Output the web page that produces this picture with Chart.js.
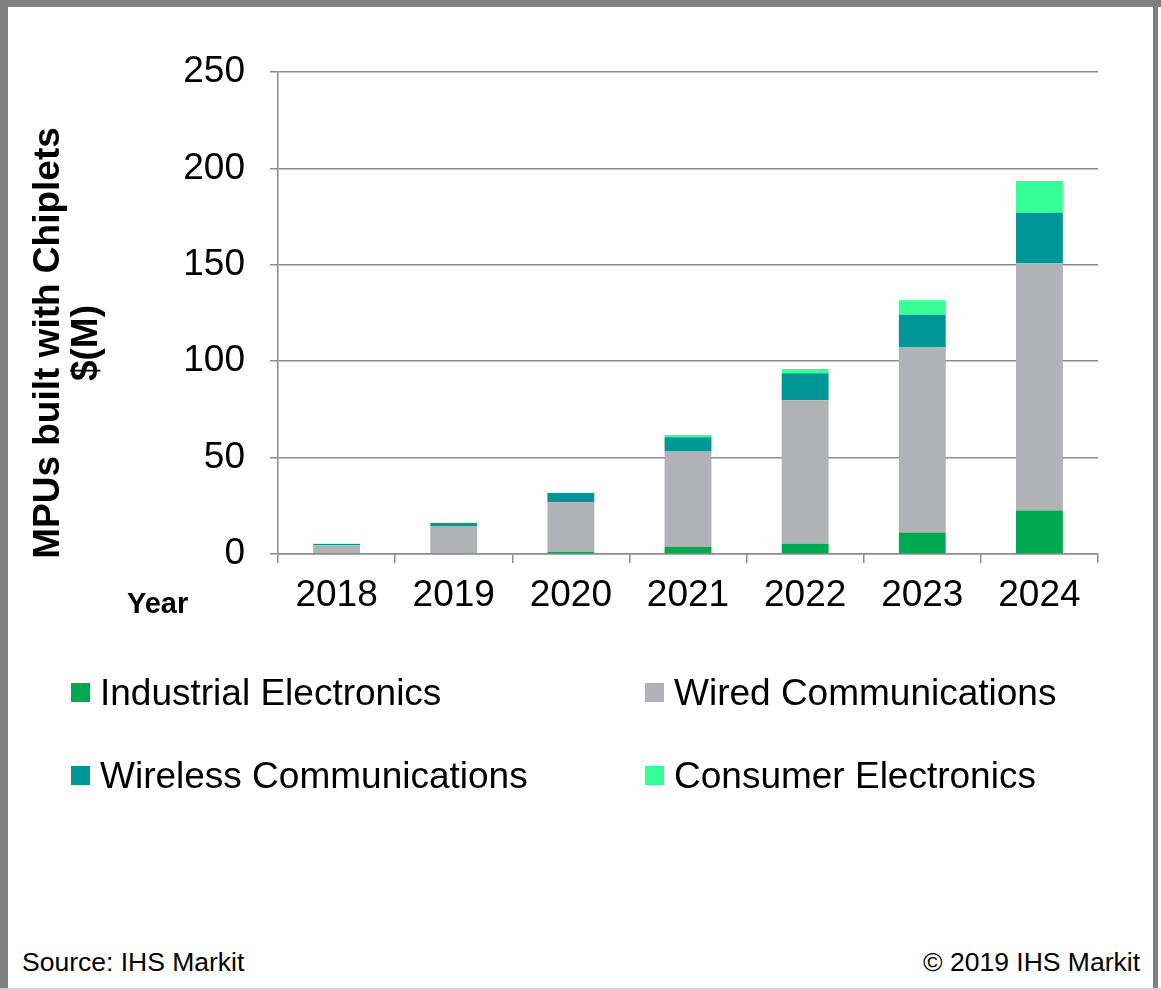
<!DOCTYPE html>
<html>
<head>
<meta charset="utf-8">
<script src="https://cdn.jsdelivr.net/npm/chart.js@4.4.1/dist/chart.umd.min.js"></script>
<style>
  html, body { margin: 0; padding: 0; background: #fff; }
  body { width: 1161px; height: 990px; position: relative; overflow: hidden; font-family: "Liberation Sans", Arial, sans-serif; }
  #frameTop { position: absolute; left: 0; top: 0; width: 1161px; height: 7px; background: #808080; }
  #frameLeft { position: absolute; left: 0; top: 0; width: 8px; height: 990px; background: #808080; }
  #frameRight { position: absolute; left: 1153px; top: 0; width: 5px; height: 990px; background: #808080; }
  #frameBottom { position: absolute; left: 0; top: 988px; width: 1161px; height: 2px; background: #d0d0d0; }
  #chartCanvas { position: absolute; left: 0; top: 0; }
  #ytitle { position: absolute; left: -184px; top: 305px; width: 500px; height: 76px; line-height: 38px;
            text-align: center; font-weight: bold; font-size: 37px; color: #000; transform: rotate(-90deg); transform-origin: 50% 50%; white-space: nowrap; }
  #xtitle { position: absolute; left: 127px; top: 585px; font-weight: bold; font-size: 29px; color: #000; line-height: 36px; }
  .leg { position: absolute; font-size: 37px; color: #000; line-height: 40px; white-space: nowrap; }
  .leg span.box { position: absolute; width: 19px; height: 19px; left: 0; top: 10px; }
  .leg span.txt { position: absolute; left: 29px; top: 0; }
  #src { position: absolute; left: 22px; top: 946px; font-size: 26.5px; color: #000; line-height: 32px; }
  #copy { position: absolute; right: 21px; top: 946px; font-size: 26.5px; color: #000; line-height: 32px; }
</style>
</head>
<body>
<div id="frameTop"></div><div id="frameLeft"></div><div id="frameRight"></div><div id="frameBottom"></div>
<canvas id="chartCanvas" width="1161" height="640"></canvas>
<div id="ytitle">MPUs built with Chiplets<br>$(M)</div>
<div id="xtitle">Year</div>
<div id="legend"></div>
<div id="src">Source: IHS Markit</div>
<div id="copy">© 2019 IHS Markit</div>
<script>
const years = ['2018', '2019', '2020', '2021', '2022', '2023', '2024'];
const seriesNames = ['Industrial Electronics', 'Wired Communications', 'Wireless Communications', 'Consumer Electronics'];
const industrial = [0.1, 0.2, 1.0, 3.8, 5.3, 11.2, 22.5];
const wired = [4.5, 14.0, 25.8, 49.3, 74.4, 96.2, 128.3];
const wireless = [0.6, 1.9, 4.8, 7.4, 14.0, 16.7, 26.2];
const consumer = [0.1, 0.1, 0.2, 1.2, 2.3, 7.5, 16.5];
const yTicks = [0, 50, 100, 150, 200, 250];
const colors = ['#00A94F', '#B1B2B5', '#009597', '#36FF96'];

const seriesValues = [industrial, wired, wireless, consumer];
const datasets = seriesNames.map((name, i) => ({
  label: name,
  data: seriesValues[i],
  backgroundColor: colors[i],
  borderWidth: 0,
  barPercentage: 1.0,
  categoryPercentage: 0.4,
  stack: 's'
}));

const gridColor = '#8c8c8c';
const chart = new Chart(document.getElementById('chartCanvas'), {
  type: 'bar',
  data: { labels: years, datasets },
  options: {
    responsive: false,
    animation: false,
    devicePixelRatio: 1,
    layout: { padding: { left: 28, right: 63, top: 72, bottom: 0 } },
    plugins: { legend: { display: false }, tooltip: { enabled: false }, title: { display: false } },
    scales: {
      x: {
        stacked: true,
        offset: true,
        grid: { display: true, drawOnChartArea: false, drawTicks: true, tickLength: 9, color: gridColor, lineWidth: 1.5, offset: true },
        border: { display: true, color: gridColor, width: 1.5 },
        ticks: { color: '#000', font: { family: 'Liberation Sans', size: 37 }, padding: 11, maxRotation: 0 },
        afterFit: (s) => { s.height = 86; }
      },
      y: {
        stacked: true,
        min: yTicks[0],
        max: yTicks[yTicks.length - 1],
        afterBuildTicks: (s) => { s.ticks = yTicks.map(v => ({ value: v })); },
        grid: { color: gridColor, lineWidth: 1.5, tickLength: 8, drawTicks: true },
        border: { display: true, color: gridColor, width: 1.5 },
        ticks: { color: '#000', font: { family: 'Liberation Sans', size: 37 }, padding: 25 },
        afterFit: (s) => { s.width = 250; }
      }
    }
  }
});

// HTML legend (2 columns) built from the datasets
const legendPos = [[71, 673], [645, 673], [71, 756], [645, 756]];
const legend = document.getElementById('legend');
seriesNames.forEach((name, i) => {
  const d = document.createElement('div');
  d.className = 'leg';
  d.style.left = legendPos[i][0] + 'px';
  d.style.top = legendPos[i][1] + 'px';
  d.innerHTML = '<span class="box" style="background:' + colors[i] + '"></span><span class="txt"></span>';
  d.querySelector('.txt').textContent = name;
  legend.appendChild(d);
});
</script>
</body>
</html>
